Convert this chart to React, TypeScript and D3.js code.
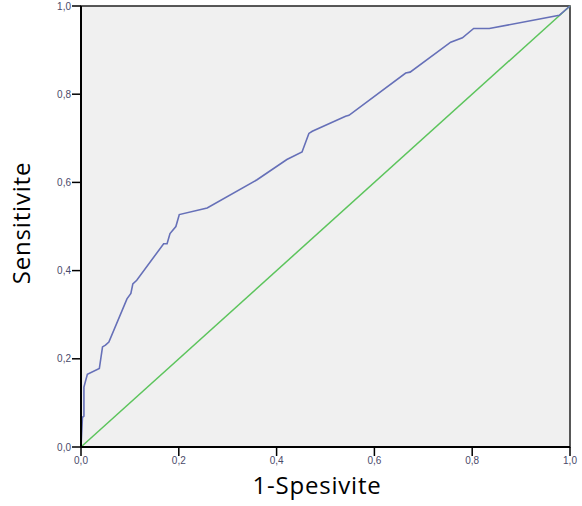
import React from "react";
import * as d3 from "d3";

// ROC curve points (1-specificity, sensitivity)
const fpr = [0, 0.003, 0.004, 0.006, 0.006, 0.013, 0.0375, 0.044, 0.05, 0.057, 0.094, 0.102, 0.106, 0.114, 0.169, 0.176, 0.182, 0.194, 0.201, 0.258, 0.36, 0.421, 0.452, 0.466, 0.473, 0.541, 0.548, 0.664, 0.673, 0.756, 0.78, 0.803, 0.835, 0.978, 1.0];
const tpr = [0, 0.068, 0.068, 0.07, 0.136, 0.165, 0.178, 0.227, 0.231, 0.238, 0.336, 0.348, 0.37, 0.378, 0.461, 0.461, 0.484, 0.5, 0.527, 0.542, 0.606, 0.652, 0.669, 0.711, 0.716, 0.75, 0.752, 0.848, 0.85, 0.918, 0.928, 0.949, 0.949, 0.979, 1.0];
const refLine = [0, 1];
const ticks = [0, 0.2, 0.4, 0.6, 0.8, 1.0];

const width = 582;
const height = 506;
const margin = { top: 6, right: 12, bottom: 59, left: 81 };

export default function App() {
  const innerW = width - margin.left - margin.right;
  const innerH = height - margin.top - margin.bottom;

  const x = d3.scaleLinear().domain([0, 1]).range([0, innerW]);
  const y = d3.scaleLinear().domain([0, 1]).range([innerH, 0]);

  const line = d3.line<number>()
    .x((d, i) => x(fpr[i]))
    .y((d, i) => y(tpr[i]));
  const diag = d3.line<number>()
    .x(d => x(d))
    .y(d => y(d));

  const fmt = (v: number) => v.toFixed(1).replace(".", ",");

  return (
    <svg width={width} height={height} style={{ position: "absolute", left: 0, top: 0 }}>
      <g transform={`translate(${margin.left},${margin.top})`}>
        <rect x={0} y={0} width={innerW} height={innerH} fill="#f0f0f0" stroke="#222" strokeWidth={1.5} />
        <path d={diag(refLine) || ""} fill="none" stroke="#5cc45c" strokeWidth={1.5} />
        <path d={line(tpr) || ""} fill="none" stroke="#6670b8" strokeWidth={1.6} />
        {/* axes */}
        <line x1={0} x2={0} y1={0} y2={innerH} stroke="#000" strokeWidth={2} />
        <line x1={0} x2={innerW} y1={innerH} y2={innerH} stroke="#000" strokeWidth={2} />
        {ticks.map(t => (
          <g key={"y" + t}>
            <line x1={-9} x2={0} y1={y(t)} y2={y(t)} stroke="#000" strokeWidth={1.5} />
            <text x={-10} y={y(t)} dy="0.35em" textAnchor="end" fontSize={10} fontFamily="Liberation Sans, Arial" fill="#4a4a6a">{fmt(t)}</text>
          </g>
        ))}
        {ticks.map(t => (
          <g key={"x" + t}>
            <line x1={x(t)} x2={x(t)} y1={innerH} y2={innerH + 9} stroke="#000" strokeWidth={1.5} />
            <text x={x(t)} y={innerH + 17} textAnchor="middle" fontSize={10} fontFamily="Liberation Sans, Arial" fill="#4a4a6a">{fmt(t)}</text>
          </g>
        ))}
      </g>
      <text x={317} y={494} textAnchor="middle" fontSize={24} letterSpacing={0.8} fontFamily="Open Sans" fill="#000">1-Spesivite</text>
      <text transform={`translate(30,223) rotate(-90)`} textAnchor="middle" fontSize={24} letterSpacing={0.8} fontFamily="Open Sans" fill="#000">Sensitivite</text>
    </svg>
  );
}
